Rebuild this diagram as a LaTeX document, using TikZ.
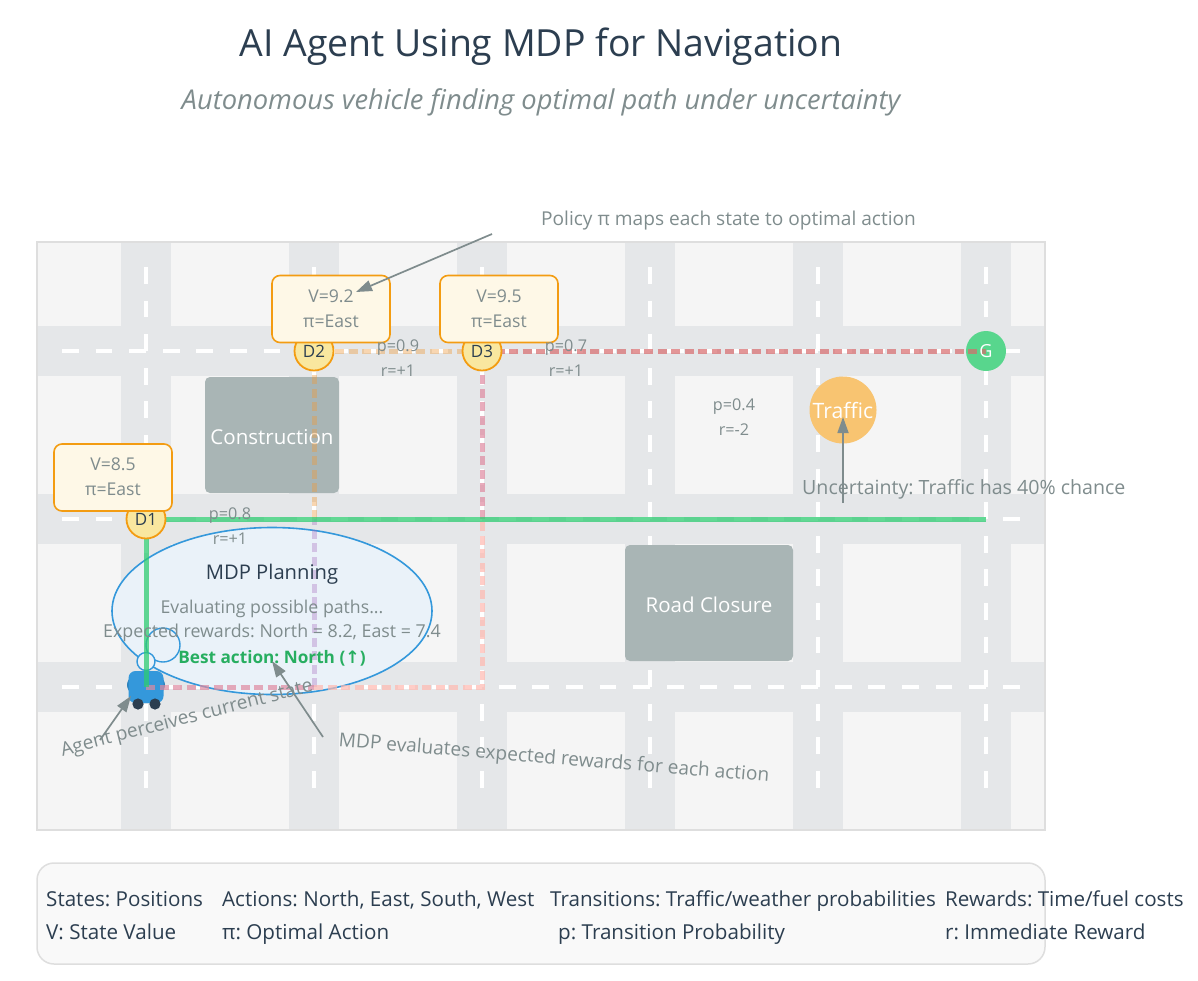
\documentclass[tikz,border=0pt]{standalone}
\usepackage{fontspec}
\setmainfont{Open Sans}
\newfontfamily\arrowfont{DejaVu Sans}
\usetikzlibrary{arrows.meta,calc,positioning,shapes.geometric}
\definecolor{inkdark}{HTML}{2C3E50}
\definecolor{inkgrey}{HTML}{7F8C8D}
\definecolor{roadgrey}{HTML}{E5E7E9}
\definecolor{mapgrey}{HTML}{F5F5F5}
\definecolor{blockgrey}{HTML}{A9B5B5}
\definecolor{boxfill}{HTML}{FEF8E7}
\definecolor{boxline}{HTML}{F39C12}
\definecolor{stateyellow}{HTML}{F9E79F}
\definecolor{bubblefill}{HTML}{EAF2F9}
\definecolor{carblue}{HTML}{3498DB}
\definecolor{goalgreen}{HTML}{58D68D}
\definecolor{bestgreen}{HTML}{27AE60}
\definecolor{routegreen}{HTML}{2ECC71}
\definecolor{routepurple}{HTML}{9B59B6}
\definecolor{routeorange}{HTML}{EE9A3C}
\definecolor{routepink}{HTML}{DF8AA0}
\definecolor{routelight}{HTML}{FFB9B0}
\definecolor{routered}{HTML}{D86A6C}
\newcommand{\fs}[1]{\fontsize{#1}{25}\selectfont}
\tikzset{
  roadmark/.style={white, line width=3.4pt, dash pattern=on 16.8pt off 16.8pt},
  block/.style={fill=blockgrey, rounded corners=5pt, text=white, font=\fs{20.5}, inner sep=0pt},
  statenode/.style={circle, draw=boxline, line width=1.8pt, fill=stateyellow, minimum size=39pt, inner sep=0pt, text=inkdark, font=\fs{17}},
  valuebox/.style={rectangle, draw=boxline, line width=1.6pt, fill=boxfill, rounded corners=8pt, minimum width=118pt, minimum height=67pt, inner sep=0pt, align=center, text=inkgrey, font=\fs{17.6}},
  probtext/.style={text=inkgrey, font=\fs{16.2}, inner sep=0pt},
  planpath/.style={line width=5pt, dash pattern=on 9pt off 4.5pt, draw opacity=.7},
  note/.style={text=inkgrey, font=\fs{19.1}, inner sep=0pt},
  notearrow/.style={-{Triangle[length=16pt,width=11pt]}, line width=1.7pt, inkgrey},
  legendtext/.style={text=inkdark, font=\fs{20.6}, inner sep=0pt, anchor=base west}
}
\begin{document}
\frenchspacing
\begin{tikzpicture}[x=1pt,y=-1pt]
  \useasboundingbox (0,0) rectangle (1198,980);
  \node[text=inkdark, font=\fs{37.4}, inner sep=0pt] (title) at (541,47) {AI Agent Using MDP for Navigation};
  \node[text=inkgrey, font=\itshape\fs{27.3}, inner sep=0pt] (subtitle) at (541,102) {Autonomous vehicle finding optimal path under uncertainty};
  % map and roads
  \fill[mapgrey] (37,242) rectangle (1045,830);
  \foreach \rx in {146,314,482,650,818,986}
    \fill[roadgrey] (\rx-25,242) rectangle (\rx+25,830);
  \foreach \ry in {351,519,687}
    \fill[roadgrey] (37,\ry-25) rectangle (1045,\ry+25);
  \draw[line width=1.8pt, draw=black!13] (37,242) rectangle (1045,830);
  \foreach \ry in {351,519,687}
    \draw[roadmark] (62,\ry) -- (1020,\ry);
  \foreach \rx in {146,314,482,650,818,986}
    \draw[roadmark] (\rx,267) -- (\rx,800);
  % obstacles
  \node[block, minimum width=134pt, minimum height=116pt] (construction) at (272,435) {\raisebox{-9pt}[0pt][0pt]{Construction}};
  \node[block, minimum width=168pt, minimum height=116pt] (closure) at (709,603) {\raisebox{-9pt}[0pt][0pt]{Road Closure}};
  \node[circle, fill=boxline!60, minimum size=67pt, inner sep=0pt, text=white, font=\fs{21.2}] (traffic) at (843,410) {Traffic};
  \node[circle, fill=goalgreen, minimum size=40pt, inner sep=0pt, text=white, font=\fs{18}] (goal) at (986,351) {G};
  % planning bubble
  \node[ellipse, draw=carblue, line width=1.6pt, fill=bubblefill, minimum width=320pt, minimum height=167pt, inner sep=0pt] (planbubble) at (272,611) {};
  \node[circle, draw=carblue, line width=1.4pt, fill=bubblefill, minimum size=34pt, inner sep=0pt] (bubblebig) at (163,645) {};
  \node[circle, draw=carblue, line width=1.4pt, fill=bubblefill, minimum size=18pt, inner sep=0pt] (bubblesmall) at (146,661.5) {};
  % agent
  \fill[carblue!85!black] (146,685) ellipse (19 and 13);
  \node[rectangle, fill=carblue, rounded corners=7pt, minimum width=35pt, minimum height=32pt, inner sep=0pt] (car) at (146,687) {};
  \fill[inkdark] (138,704) circle (5.6) (155,704) circle (5.6);
  % routes
  \coordinate (cornerA) at (314,687);
  \coordinate (cornerB) at (482,687);
  \coordinate (cornerC) at (314,519);
  \coordinate (cornerD) at (482,519);
  \coordinate (greenend) at (986,519);
  \coordinate (d1pos) at (146,519);
  \coordinate (d2pos) at (314,351);
  \coordinate (d3pos) at (482,351);
  \draw[planpath, routepurple, draw opacity=.3] (cornerA) -- (cornerC);
  \draw[planpath, routeorange, draw opacity=.4] (cornerC) -- (d2pos) -- (d3pos);
  \draw[planpath, routepink] (car.center) -- (cornerA);
  \draw[planpath, routelight] (cornerA) -- (cornerB) -- (cornerD);
  \draw[planpath, routepink] (cornerD) -- (d3pos);
  \draw[planpath, routered] (d3pos) -- (goal.center);
  \draw[line width=5pt, routegreen, draw opacity=.75] (car.center) -- (d1pos) -- (greenend);
  % states
  \node[statenode] (d1) at (d1pos) {D1};
  \node[statenode] (d2) at (d2pos) {D2};
  \node[statenode] (d3) at (d3pos) {D3};
  \node[valuebox] (d1box) at (113,477.5) {\raisebox{1.5pt}{V=8.5}\\\raisebox{1.5pt}{π=East}};
  \node[valuebox] (d2box) at (331,309) {\raisebox{1pt}{V=9.2}\\\raisebox{1pt}{π=East}};
  \node[valuebox] (d3box) at (499,309) {\raisebox{1pt}{V=9.5}\\\raisebox{1pt}{π=East}};
  % transition labels
  \node[probtext] (p1) at (230,516) {p=0.8};
  \node[probtext] (r1) at (230,539) {r=+1};
  \node[probtext] (p2) at (398,348) {p=0.9};
  \node[probtext] (r2) at (398,371) {r=+1};
  \node[probtext] (p3) at (566,348) {p=0.7};
  \node[probtext] (r3) at (566,371) {r=+1};
  \node[probtext] (p4) at (734,407) {p=0.4};
  \node[probtext] (r4) at (734,430) {r=-2};
  % planning text
  \node[text=inkdark, font=\fs{20.2}, inner sep=0pt] (plantitle) at (272,574) {MDP Planning};
  \node[text=inkgrey, font=\fs{17.7}, inner sep=0pt] (planeval) at (272,609) {Evaluating possible paths...};
  \node[text=inkgrey, font=\fs{17.8}, inner sep=0pt] (planrew) at (272,633) {Expected rewards: North = 8.2, East = 7.4};
  \node[text=bestgreen, font=\bfseries\fs{17.2}, inner sep=0pt] (planbest) at (272,658) {Best action: North ({\arrowfont↑})};
  % annotations
  \node[note, anchor=west] (notepolicy) at (541,221) {Policy π maps each state to optimal action};
  \node[note, anchor=west, font=\fs{19.6}] (noteuncert) at (802,489) {Uncertainty: Traffic has 40\% chance};
  \node[note, rotate=14.5] (noteagent) at (187,719) {Agent perceives current state};
  \node[note, rotate=-4.7] (notemdp) at (554,759) {MDP evaluates expected rewards for each action};
  \coordinate (policystart) at (492,234);
  \coordinate (policytip) at (356,292);
  \coordinate (uncertstart) at (843,503);
  \coordinate (uncerttip) at (843,417);
  \coordinate (agentstart) at (100,740);
  \coordinate (agenttip) at (131,696);
  \coordinate (mdpstart) at (323,737);
  \coordinate (mdptip) at (272,661);
  \draw[notearrow] (policystart) -- (policytip);
  \draw[notearrow] (uncertstart) -- (uncerttip);
  \draw[notearrow] (agentstart) -- (agenttip);
  \draw[notearrow] (mdpstart) -- (mdptip);
  % legend
  \node[rectangle, draw=black!13, line width=1.5pt, fill=black!2.5, rounded corners=17pt, minimum width=1008pt, minimum height=101pt, inner sep=0pt] (legend) at (541,913.5) {};
  \node[legendtext] (l1) at (46,906) {States: Positions};
  \node[legendtext] (l2) at (222,906) {Actions: North, East, South, West};
  \node[legendtext] (l3) at (550,906) {Transitions: Traffic/weather probabilities};
  \node[legendtext] (l4) at (945,906) {Rewards: Time/fuel costs};
  \node[legendtext] (l5) at (46,939) {V: State Value};
  \node[legendtext] (l6) at (222,939) {π: Optimal Action};
  \node[legendtext] (l7) at (558,939) {p: Transition Probability};
  \node[legendtext] (l8) at (945,939) {r: Immediate Reward};
\end{tikzpicture}
\end{document}
